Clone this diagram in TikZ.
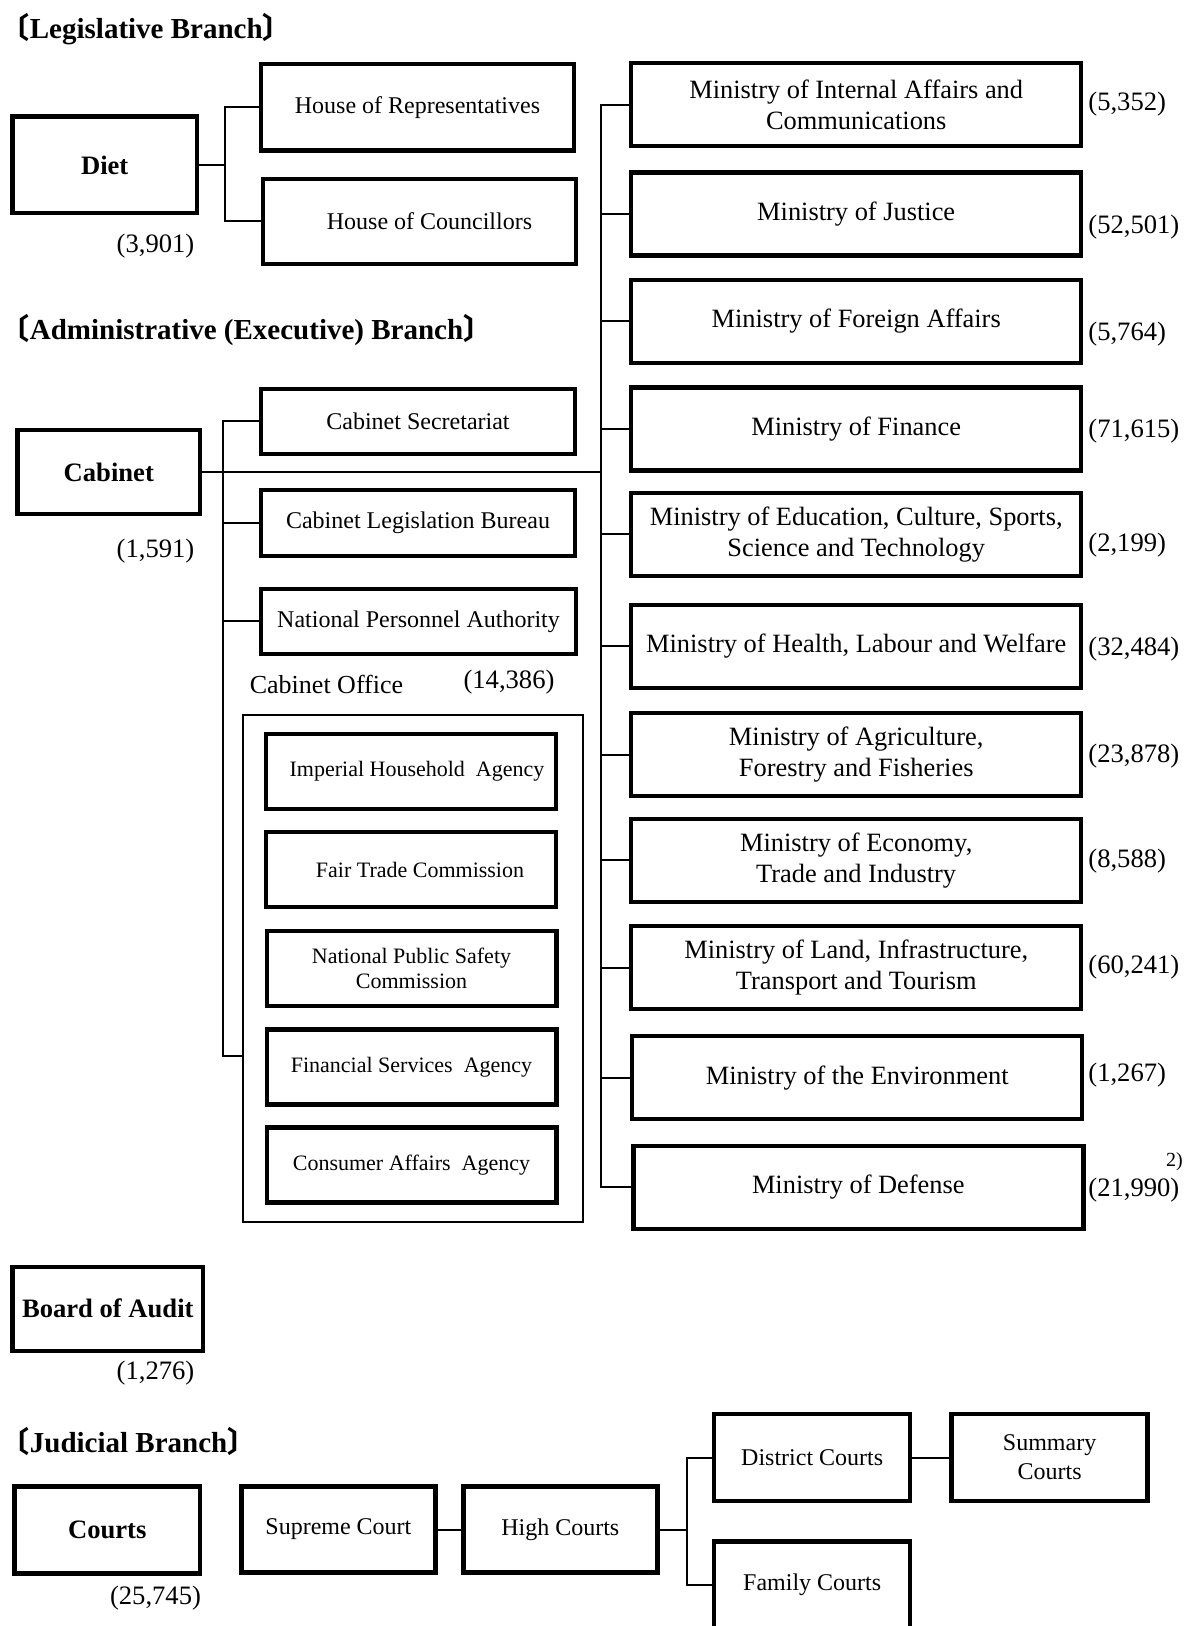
\documentclass[tikz,border=0pt]{standalone}
\usepackage{fontspec}
\setmainfont{Liberation Serif}
\newfontfamily\cjk[RawFeature=+halt]{Noto Sans CJK JP}
\tikzset{
  bx/.style={draw, line width=2.2pt, inner sep=1pt, align=center, font=\fontsize{12}{14.5}\selectfont},
  mbx/.style={bx, minimum width=225pt, minimum height=41.5pt, font=\fontsize{13.2}{15.5}\selectfont},
  ibx/.style={bx, minimum width=144.8pt, minimum height=37.5pt, font=\fontsize{11}{12.5}\selectfont},
  bbx/.style={bx, font=\fontsize{13.3}{15}\selectfont\bfseries},
  conn/.style={line width=1pt},
  num/.style={font=\fontsize{13.3}{15}\selectfont, inner sep=0},
  hd/.style={font=\fontsize{14.5}{16}\selectfont\bfseries, anchor=west, inner sep=0}
}
\begin{document}
\begin{tikzpicture}[x=0.5pt,y=-0.5pt]
\useasboundingbox (0,0) rectangle (1188,1626);
\fill[white] (0,0) rectangle (1188,1626);

% ---------- Legislative ----------
\node[hd] (hleg) at (15,29) {{\cjk 〔}Legislative Branch{\cjk 〕}};
\node[bbx, minimum width=92.3pt, minimum height=48.3pt] (diet) at (104.7,165) {Diet};
\node[num] (ndiet) at (155.5,245.7) {(3,901)};
\node[bx, minimum width=156.5pt, minimum height=43.2pt] (hor) at (417.5,107.2) {House of Representatives};
\node[bx, minimum width=156.5pt, minimum height=42.5pt] (hoc) at (419.5,221.5) {\hspace{10pt}House of Councillors};
\coordinate (dj) at (225,165);
\draw[conn] (diet.east) -- (dj);
\draw[conn] (hor.west) -| (dj) |- (hoc.west);

% ---------- Administrative ----------
\node[hd] (hadm) at (15,329.6) {{\cjk 〔}Administrative (Executive) Branch{\cjk 〕}};
\node[bbx, minimum width=91.2pt, minimum height=42pt] (cab) at (108.8,472) {Cabinet};
\node[num] (ncab) at (155.5,551.5) {(1,591)};
\node[bx, minimum width=157pt, minimum height=32.6pt] (cs) at (418,421.4) {Cabinet Secretariat};
\node[bx, minimum width=157pt, minimum height=32.8pt] (clb) at (418,522.9) {Cabinet Legislation Bureau};
\node[bx, minimum width=157.5pt, minimum height=32.6pt] (npa) at (418.5,621.4) {National Personnel Authority};
\node[num, font=\fontsize{13}{15}\selectfont] (cot) at (326.5,684) {Cabinet Office};
\node[num] (nco) at (509,682) {(14,386)};
\node[draw, line width=1pt, minimum width=170pt, minimum height=253.5pt, inner sep=0] (cabo) at (412.5,968.5) {};
\node[ibx] (iha) at (411,771.2) {\hspace{6pt}Imperial Household\ \ Agency};
\node[ibx] (ftc) at (411,869.7) {\hspace{9pt}Fair Trade Commission};
\node[ibx] (npsc) at (411.5,968.7) {National Public Safety\\Commission};
\node[ibx] (fsa) at (411.5,1067) {Financial Services\ \ Agency};
\node[ibx] (caa) at (411.5,1165) {Consumer Affairs\ \ Agency};

\coordinate (cj) at (222.9,1056.3);
\draw[conn] (cs.west) -| (cj) -- (cj -| cabo.west);
\draw[conn] (clb.west) -- (clb.west -| cj);
\draw[conn] (npa.west) -- (npa.west -| cj);

% ministries
\node[mbx] (m1) at (856.2,104.7) {Ministry of Internal Affairs and\\Communications};
\node[mbx] (m2) at (856.2,214) {Ministry of Justice};
\node[mbx] (m3) at (856.2,321.4) {Ministry of Foreign Affairs};
\node[mbx] (m4) at (856.2,429) {Ministry of Finance};
\node[mbx] (m5) at (856.2,534.4) {Ministry of Education, Culture, Sports,\\Science and Technology};
\node[mbx] (m6) at (856.2,646.3) {Ministry of Health, Labour and Welfare};
\node[mbx] (m7) at (856.2,754.7) {Ministry of Agriculture,\\Forestry and Fisheries};
\node[mbx] (m8) at (856.2,860.4) {Ministry of Economy,\\Trade and Industry};
\node[mbx] (m9) at (856.2,967.7) {Ministry of Land, Infrastructure,\\Transport and Tourism};
\node[mbx] (m10) at (857.2,1077.6) {Ministry of the Environment};
\node[mbx] (m11) at (858.3,1187.4) {Ministry of Defense};

\node[num, anchor=west] (n1) at (1088,103.7) {(5,352)};
\node[num, anchor=west] (n2) at (1088,227) {(52,501)};
\node[num, anchor=west] (n3) at (1088,333.8) {(5,764)};
\node[num, anchor=west] (n4) at (1088,431.2) {(71,615)};
\node[num, anchor=west] (n5) at (1088,545.3) {(2,199)};
\node[num, anchor=west] (n6) at (1088,649) {(32,484)};
\node[num, anchor=west] (n7) at (1088,755.7) {(23,878)};
\node[num, anchor=west] (n8) at (1088,861.4) {(8,588)};
\node[num, anchor=west] (n9) at (1088,967.2) {(60,241)};
\node[num, anchor=west] (n10) at (1088,1075) {(1,267)};
\node[num, anchor=west] (n11) at (1088,1190) {(21,990)};
\node[num, font=\fontsize{10}{12}\selectfont] (fn) at (1174.5,1162) {2)};

\coordinate (sp) at (601.2,104.7);
\draw[conn] (m1.west) -- (sp) -- (sp |- m11.west) -- (m11.west);
\foreach \m in {m2,m3,m4,m5,m6,m7,m8,m9,m10}
  \draw[conn] (\m.west) -- (\m.west -| sp);
\draw[conn] (cab.east) -- (cab.east -| sp);

% ---------- Board of Audit ----------
\node[bbx, minimum width=95.4pt, minimum height=42pt] (boa) at (107.8,1308.7) {Board of Audit};
\node[num] (nboa) at (155.5,1373.5) {(1,276)};

% ---------- Judicial ----------
\node[hd] (hjud) at (15,1441) {{\cjk 〔}Judicial Branch{\cjk 〕}};
\node[bbx, minimum width=92.8pt, minimum height=43.6pt] (crt) at (107.3,1530) {Courts};
\node[num] (ncrt) at (155.5,1598.4) {(25,745)};
\node[bx, minimum width=97pt, minimum height=43pt] (sc) at (338.4,1529.5) {Supreme Court};
\node[bx, minimum width=97pt, minimum height=43pt] (hc) at (560.3,1529.5) {High Courts};
\node[bx, minimum width=98pt, minimum height=43.6pt] (dc) at (812.2,1457.5) {District Courts};
\node[bx, minimum width=98pt, minimum height=43.6pt] (smc) at (1049.6,1457.5) {Summary\\Courts};
\node[bx, minimum width=98pt, minimum height=43.6pt] (fc) at (812.2,1585) {Family Courts};
\coordinate (jx) at (687.3,1529.5);
\draw[conn] (sc.east) -- (hc.west);
\draw[conn] (hc.east) -- (jx);
\draw[conn] (dc.west) -| (jx) |- (fc.west);
\draw[conn] (dc.east) -- (smc.west);
\end{tikzpicture}
\end{document}
